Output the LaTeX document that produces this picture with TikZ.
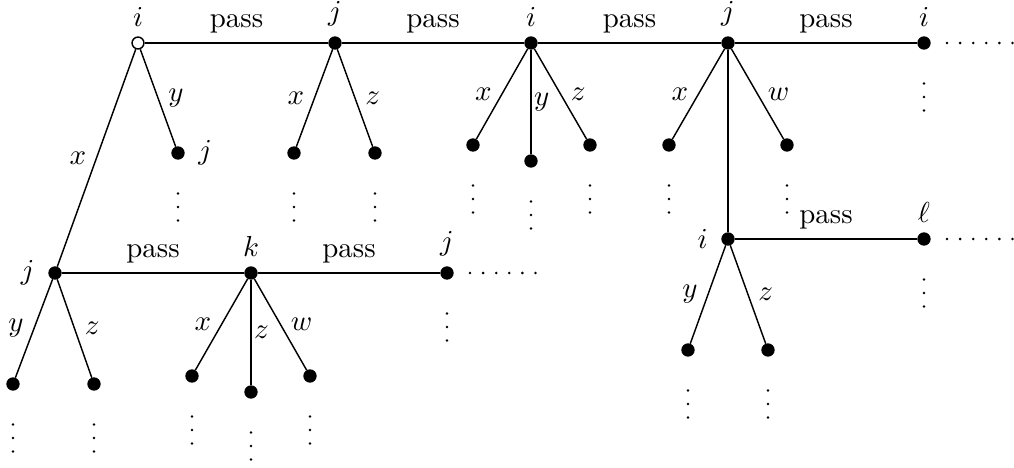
\documentclass[tikz,border=0pt]{standalone}
\begin{document}
\begin{tikzpicture}[x=0.346pt,y=-0.346pt,line width=0.5pt,
  dot/.style={circle,fill=black,draw=black,inner sep=0pt,minimum size=4.1pt},
  odot/.style={circle,fill=white,draw=black,inner sep=0pt,minimum size=4.1pt},
  every label/.style={inner sep=3.33pt},
  label distance=0pt,
  lft/.style={midway,left},
  rgt/.style={midway,right},
  vrt/.style={midway,right,inner sep=0.8pt},
  ps/.style={midway,above},
  vdts/.pic={\foreach \k in {40.5,54,67.5} \fill (0,\k) circle (0.5pt);},
  hdts/.pic={\foreach \k in {0,...,5} \fill (23+13.1*\k,0) circle (0.5pt);}]
\useasboundingbox (0,0) rectangle (1014,468);
% top row
\node[odot,label=above:$i$] (r) at (138,43) {};
\node[dot,label=above:$j$] (a1) at (335,43) {};
\node[dot,label=above:$i$] (a2) at (531,43) {};
\node[dot,label=above:$j$] (a3) at (728,43) {};
\node[dot,label=above:$i$] (a4) at (924,43) {};
% children of top row
\node[dot,label={[label distance=1.2pt]right:$j$}] (ry) at (178,153) {};
\node[dot] (a1x) at (294,153) {};
\node[dot] (a1z) at (375,153) {};
\node[dot] (a2x) at (473,145) {};
\node[dot] (a2y) at (531,161) {};
\node[dot] (a2z) at (590,145) {};
\node[dot] (a3x) at (669,145) {};
\node[dot] (a3w) at (787,145) {};
% lower right
\node[dot,label={[label distance=1.2pt]left:$i$}] (b) at (728,239) {};
\node[dot,label=above:$\ell$] (b1) at (924,239) {};
\node[dot] (by) at (688,350) {};
\node[dot] (bz) at (768,350) {};
% lower left
\node[dot,label={[label distance=1.2pt]left:$j$}] (c) at (55,273) {};
\node[dot,label=above:$k$] (ck) at (251,273) {};
\node[dot,label=above:$j$] (cj) at (447,273) {};
\node[dot] (cy) at (13,384) {};
\node[dot] (cz) at (94,384) {};
\node[dot] (kx) at (192,376) {};
\node[dot] (kz) at (251,392) {};
\node[dot] (kw) at (310,376) {};
% edges
\draw (r) -- node[ps] (p1) {pass} (a1);
\draw (a1) -- node[ps] (p2) {pass} (a2);
\draw (a2) -- node[ps] (p3) {pass} (a3);
\draw (a3) -- node[ps] (p4) {pass} (a4);
\draw (r) -- node[lft] (l1) {$x$} (c);
\draw (r) -- node[rgt] (l2) {$y$} (ry);
\draw (a1) -- node[lft] (l3) {$x$} (a1x);
\draw (a1) -- node[rgt] (l4) {$z$} (a1z);
\draw (a2) -- node[lft] (l5) {$x$} (a2x);
\draw (a2) -- node[vrt] (l6) {$y$} (a2y);
\draw (a2) -- node[rgt] (l7) {$z$} (a2z);
\draw (a3) -- node[lft] (l8) {$x$} (a3x);
\draw (a3) -- node[rgt] (l9) {$w$} (a3w);
\draw (a3) -- (b);
\draw (b) -- node[ps] (p5) {pass} (b1);
\draw (b) -- node[lft] (l10) {$y$} (by);
\draw (b) -- node[rgt] (l11) {$z$} (bz);
\draw (c) -- node[ps] (p6) {pass} (ck);
\draw (ck) -- node[ps] (p7) {pass} (cj);
\draw (c) -- node[lft] (l12) {$y$} (cy);
\draw (c) -- node[rgt] (l13) {$z$} (cz);
\draw (ck) -- node[lft] (l14) {$x$} (kx);
\draw (ck) -- node[vrt] (l15) {$z$} (kz);
\draw (ck) -- node[rgt] (l16) {$w$} (kw);
% continuation dots
\foreach \n in {ry,a1x,a1z,a2x,a2y,a2z,a3x,a3w,a4,b1,by,bz,cj,cy,cz,kx,kz,kw}
  \pic at (\n) {vdts};
\foreach \n in {a4,b1,cj}
  \pic at (\n) {hdts};
\end{tikzpicture}
\end{document}
